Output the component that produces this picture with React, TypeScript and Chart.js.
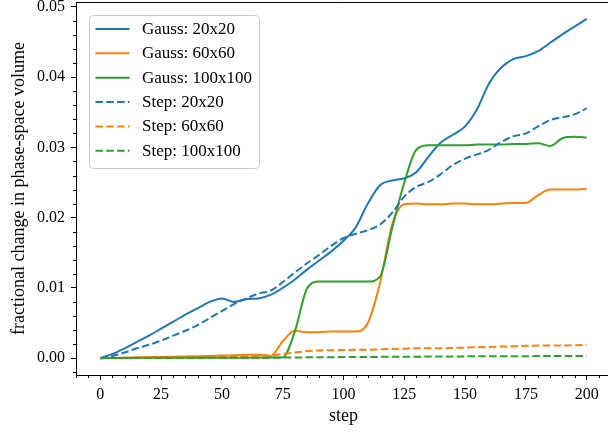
import { useEffect, useRef } from "react";
import { Chart, registerables } from "chart.js";

Chart.register(...registerables);

const steps = [
  0, 5, 10, 15, 20, 25, 30, 35, 40, 45, 50, 55, 60, 65, 70, 75, 80, 85, 90, 95, 100,
  105, 110, 115, 120, 125, 130, 135, 140, 145, 150, 155, 160, 165, 170, 175, 180, 185, 190, 195, 200,
];

const gauss20 = [
  0, 0.0006, 0.0014, 0.0023, 0.0032, 0.0042, 0.0052, 0.0062, 0.0071, 0.008, 0.0085,
  0.008, 0.0084, 0.0085, 0.009, 0.01, 0.0112, 0.0126, 0.0139, 0.0152, 0.0167,
  0.0186, 0.022, 0.0246, 0.0253, 0.0256, 0.0265, 0.0287, 0.0307, 0.0318, 0.033,
  0.0355, 0.0392, 0.0414, 0.0426, 0.043, 0.0437, 0.0449, 0.0461, 0.0472, 0.0483,
];

const gauss60 = [
  0, 0.00003, 0.00007, 0.0001, 0.00013, 0.00017, 0.0002, 0.00024, 0.00028, 0.00032, 0.00036,
  0.0004, 0.00045, 0.0005, 0.0003, 0.0024, 0.0039, 0.0037, 0.0037, 0.0038, 0.0038,
  0.0038, 0.005, 0.0107, 0.019, 0.0219, 0.022, 0.0219, 0.0219, 0.022, 0.022,
  0.0219, 0.0219, 0.022, 0.0221, 0.0221, 0.0232, 0.024, 0.024, 0.024, 0.0241,
];

const gauss100 = [
  0, 0.00002, 0.00003, 0.00004, 0.00005, 0.00005, 0.00005, 0.00005, 0.00006, 0.00006, 0.00006,
  0.00007, 0.00007, 0.00008, 0.00008, 0.0001, 0.0038, 0.0099, 0.0109, 0.0109, 0.0109,
  0.0109, 0.0109, 0.0116, 0.0185, 0.025, 0.0297, 0.0303, 0.0303, 0.0303, 0.0303,
  0.0304, 0.0304, 0.0304, 0.0305, 0.0305, 0.0306, 0.0302, 0.0313, 0.0315, 0.0314,
];

const step20 = [
  0, 0.0003, 0.0008, 0.0014, 0.0019, 0.0025, 0.0032, 0.0039, 0.0047, 0.0057, 0.0067,
  0.0077, 0.0085, 0.0092, 0.0096, 0.0108, 0.0122, 0.0135, 0.0147, 0.016, 0.0171,
  0.0177, 0.0182, 0.019, 0.0207, 0.023, 0.0244, 0.0251, 0.0262, 0.0275, 0.0284,
  0.029, 0.0297, 0.0308, 0.0316, 0.032, 0.033, 0.0339, 0.0343, 0.0347, 0.0356,
];

const step60 = [
  0, 0.00002, 0.00004, 0.00007, 0.0001, 0.00012, 0.00015, 0.00018, 0.0002, 0.00022, 0.00025,
  0.00028, 0.0003, 0.00035, 0.0004, 0.0006, 0.0008, 0.001, 0.0011, 0.00112, 0.00115,
  0.00118, 0.0012, 0.00125, 0.0013, 0.00135, 0.0014, 0.0014, 0.0014, 0.00145, 0.0015,
  0.00155, 0.0016, 0.00165, 0.0017, 0.00175, 0.0018, 0.0018, 0.0018, 0.00185, 0.0019,
];

const step100 = [
  0, 0.00001, 0.00002, 0.00002, 0.00003, 0.00003, 0.00004, 0.00004, 0.00004, 0.00005, 0.00005,
  0.00005, 0.00006, 0.00006, 0.00007, 0.00008, 0.0001, 0.00011, 0.00012, 0.00014, 0.00015,
  0.00016, 0.00017, 0.00018, 0.0002, 0.0002, 0.00021, 0.00022, 0.00023, 0.00024, 0.00025,
  0.00026, 0.00026, 0.00027, 0.00028, 0.00028, 0.00029, 0.0003, 0.0003, 0.0003, 0.0003,
];

const seriesLabels = [
  "Gauss: 20x20",
  "Gauss: 60x60",
  "Gauss: 100x100",
  "Step: 20x20",
  "Step: 60x60",
  "Step: 100x100",
];
const seriesValues = [gauss20, gauss60, gauss100, step20, step60, step100];
const seriesColors = ["#1f77b4", "#ff7f0e", "#2ca02c", "#1f77b4", "#ff7f0e", "#2ca02c"];
const seriesDashed = [false, false, false, true, true, true];

const xTicks = [0, 25, 50, 75, 100, 125, 150, 175, 200];
const yTicks = [0, 0.01, 0.02, 0.03, 0.04, 0.05];

const xMinor: number[] = [];
for (let v = -10; v <= 210; v += 5) if (v % 25 !== 0) xMinor.push(v);
const yMinor: number[] = [];
for (let k = -1; k <= 25; k++) if (k % 5 !== 0) yMinor.push(k * 0.002);

const FONT = "'Liberation Serif', 'Times New Roman', serif";
const DASH = [7.5, 3.3];

const decorPlugin = {
  id: "decor",
  afterDraw(chart: any) {
    const { ctx, chartArea, scales } = chart;
    const xs = scales.x;
    const ys = scales.y;
    ctx.save();
    ctx.strokeStyle = "#000";
    ctx.lineWidth = 1;
    ctx.setLineDash([]);
    ctx.beginPath();
    ctx.moveTo(chartArea.left, chartArea.top + 0.5);
    ctx.lineTo(chartArea.right, chartArea.top + 0.5);
    ctx.moveTo(chartArea.right - 0.5, chartArea.top);
    ctx.lineTo(chartArea.right - 0.5, chartArea.bottom);
    ctx.stroke();

    ctx.beginPath();
    for (const v of xMinor) {
      const px = Math.round(xs.getPixelForValue(v)) + 0.5;
      ctx.moveTo(px, chartArea.bottom);
      ctx.lineTo(px, chartArea.bottom + 3);
    }
    for (const v of yMinor) {
      const py = Math.round(ys.getPixelForValue(v)) + 0.5;
      ctx.moveTo(chartArea.left, py);
      ctx.lineTo(chartArea.left - 3, py);
    }
    ctx.stroke();

    // legend
    const lx = chartArea.left + 13.5;
    const ly = chartArea.top + 13.5;
    const lw = 170;
    const lh = 153;
    const r = 4;
    ctx.beginPath();
    ctx.moveTo(lx + r, ly);
    ctx.lineTo(lx + lw - r, ly);
    ctx.quadraticCurveTo(lx + lw, ly, lx + lw, ly + r);
    ctx.lineTo(lx + lw, ly + lh - r);
    ctx.quadraticCurveTo(lx + lw, ly + lh, lx + lw - r, ly + lh);
    ctx.lineTo(lx + r, ly + lh);
    ctx.quadraticCurveTo(lx, ly + lh, lx, ly + lh - r);
    ctx.lineTo(lx, ly + r);
    ctx.quadraticCurveTo(lx, ly, lx + r, ly);
    ctx.closePath();
    ctx.fillStyle = "rgba(255,255,255,0.8)";
    ctx.fill();
    ctx.strokeStyle = "#cccccc";
    ctx.lineWidth = 1;
    ctx.stroke();

    const datasets = chart.data.datasets;
    ctx.font = `17px ${FONT}`;
    ctx.textBaseline = "middle";
    ctx.textAlign = "left";
    for (let i = 0; i < datasets.length; i++) {
      const ds = datasets[i];
      const yy = ly + 13.5 + i * 24.35;
      ctx.beginPath();
      ctx.setLineDash(ds.borderDash || []);
      ctx.strokeStyle = ds.borderColor;
      ctx.lineWidth = 2;
      ctx.moveTo(lx + 6, yy);
      ctx.lineTo(lx + 40, yy);
      ctx.stroke();
      ctx.setLineDash([]);
      ctx.fillStyle = "#000";
      ctx.fillText(ds.label, lx + 52.5, yy + 0.5);
    }
    ctx.restore();
  },
};

export default function App() {
  const ref = useRef<HTMLCanvasElement | null>(null);

  useEffect(() => {
    if (!ref.current) return;
    Chart.defaults.font.family = FONT;
    Chart.defaults.color = "#000";
    const datasets = seriesLabels.map((label, i) => ({
      label,
      data: steps.map((s, j) => ({ x: s, y: seriesValues[i][j] })),
      borderColor: seriesColors[i],
      backgroundColor: seriesColors[i],
      borderWidth: 2,
      borderDash: seriesDashed[i] ? DASH : [],
      pointRadius: 0,
      fill: false,
      cubicInterpolationMode: "monotone" as const,
      order: seriesLabels.length - i,
    }));

    const gridOpts = {
      drawOnChartArea: false,
      drawTicks: true,
      tickLength: 5,
      tickColor: "#000",
      tickWidth: 1,
    };
    const borderOpts = { display: true, color: "#000", width: 1 };

    const chart = new Chart(ref.current, {
      type: "line",
      data: { datasets } as any,
      options: {
        animation: false,
        responsive: false,
        devicePixelRatio: 1,
        layout: { padding: { left: 0, top: 2, right: 9, bottom: 0 }, autoPadding: false },
        plugins: { legend: { display: false }, tooltip: { enabled: false } },
        scales: {
          x: {
            type: "linear",
            min: -10,
            max: 210,
            afterBuildTicks: (s: any) => {
              s.ticks = xTicks.map((v) => ({ value: v }));
            },
            afterFit: (s: any) => {
              s.height = 59;
              s.paddingLeft = 0;
              s.paddingRight = 0;
            },
            ticks: {
              padding: 5,
              color: "#000",
              font: { family: FONT, size: 16 },
              maxRotation: 0,
              autoSkip: false,
              callback: (v: any) => String(v),
            },
            grid: gridOpts,
            border: borderOpts,
            title: {
              display: true,
              text: "step",
              color: "#000",
              font: { family: FONT, size: 18 },
              padding: { top: 0, bottom: 6.5 },
            },
          },
          y: {
            type: "linear",
            min: -0.0024,
            max: 0.0507,
            afterBuildTicks: (s: any) => {
              s.ticks = yTicks.map((v) => ({ value: v }));
            },
            afterFit: (s: any) => {
              s.width = 76;
              s.paddingTop = 0;
              s.paddingBottom = 0;
            },
            ticks: {
              padding: 6,
              color: "#000",
              font: { family: FONT, size: 16 },
              autoSkip: false,
              callback: (v: any) => Number(v).toFixed(2),
            },
            grid: gridOpts,
            border: borderOpts,
            title: {
              display: true,
              text: "fractional change in phase-space volume",
              color: "#000",
              font: { family: FONT, size: 18 },
              padding: { top: 8, bottom: 0 },
            },
          },
        },
      } as any,
      plugins: [decorPlugin],
    });
    return () => chart.destroy();
  }, []);

  return (
    <div
      style={{
        position: "fixed",
        left: 0,
        top: 0,
        width: 608,
        height: 434,
        overflow: "hidden",
        background: "#fff",
      }}
    >
      <canvas ref={ref} width={620} height={434} style={{ display: "block" }} />
    </div>
  );
}
